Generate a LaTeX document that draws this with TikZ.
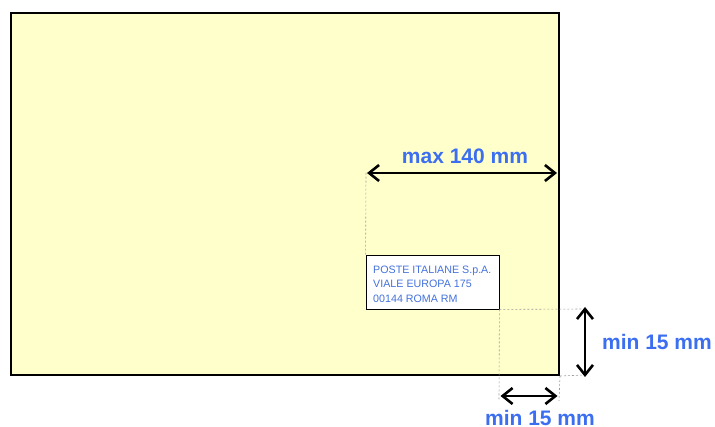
\documentclass[tikz,border=0pt]{standalone}
\usepackage{fontspec}
\setmainfont{Liberation Sans}
\usetikzlibrary{arrows.meta}
\definecolor{envfill}{RGB}{255,255,204}
\definecolor{lblblue}{RGB}{59,110,240}
\definecolor{addrblue}{RGB}{68,114,220}
\begin{document}
\begin{tikzpicture}[x=1pt,y=-1pt,
  envbox/.style={draw=black,line width=2pt,fill=envfill,minimum width=548pt,minimum height=362pt,inner sep=0pt},
  addrbox/.style={draw=black,line width=0.8pt,fill=white,minimum width=133pt,minimum height=54pt,inner sep=0pt},
  guide/.style={draw=gray!80,dashed,line width=0.6pt,dash pattern=on 2pt off 2pt},
  dimarrow/.style={draw=black,line width=2.6pt,{Straight Barb[length=10pt,width=16pt,line width=2.6pt]}-{Straight Barb[length=10pt,width=16pt,line width=2.6pt]}},
  dimlabel/.style={text=lblblue,font=\fontsize{21}{23}\selectfont\bfseries,inner sep=0pt}]
\useasboundingbox (0,0) rectangle (715,427);
\node[envbox] (env) at (285,194) {};
\node[addrbox] (addr) at (432.5,282) {};
\node[text=addrblue,font=\fontsize{10.7}{14.5}\selectfont,align=left,anchor=west,inner sep=0pt] (addrtext) at (373,284) {POSTE ITALIANE S.p.A.\\VIALE EUROPA 175\\00144 ROMA RM};
% guide coordinates
\coordinate (topL) at (366,173);
\coordinate (topR) at (557,173);
\coordinate (rT) at (585,309);
\coordinate (rB) at (585,375);
\coordinate (bL) at (499,401);
\coordinate (bR) at (559,401);
\coordinate (bLa) at (499,396);
\coordinate (bRa) at (559,396);
\draw[guide] (addr.north west) -- (topL);
\draw[guide] (addr.south east) -- (rT);
\draw[guide] (env.south east) -- (rB);
\draw[guide] (addr.south east) -- (bL);
\draw[guide] (env.south east) -- (bR);
\draw[dimarrow] ([xshift=1pt]topL) -- (topR);
\draw[dimarrow] ([yshift=2pt]rT) -- ([yshift=-2pt]rB);
\draw[dimarrow] ([xshift=1.5pt]bLa) -- ([xshift=-1.5pt]bRa);
\node[dimlabel] (lmax) at (465,156) {max 140 mm};
\node[dimlabel] (lright) at (657,342) {min 15 mm};
\node[dimlabel] (lbottom) at (540,418) {min 15 mm};
\end{tikzpicture}
\end{document}
